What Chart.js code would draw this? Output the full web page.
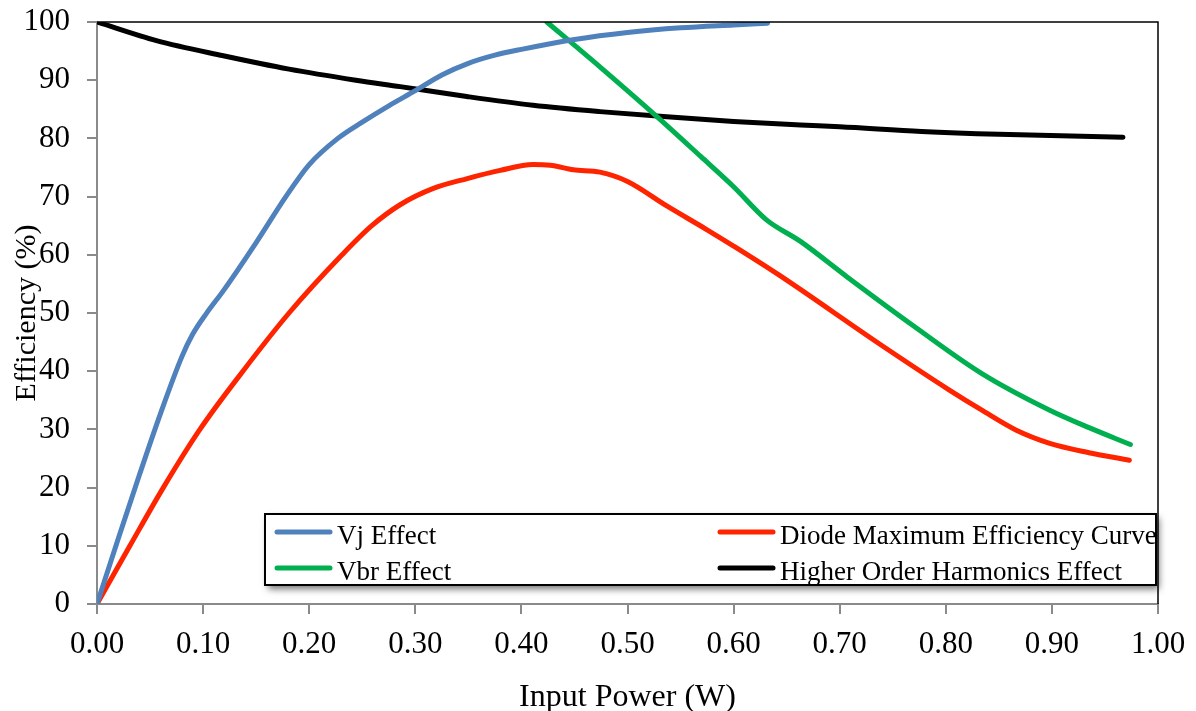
<!DOCTYPE html>
<html>
<head>
<meta charset="utf-8">
<script src="https://cdn.jsdelivr.net/npm/chart.js@4/dist/chart.umd.min.js"></script>
<style>
  html, body { margin: 0; padding: 0; background: #fff; }
  #wrap { width: 1196px; height: 711px; }
</style>
</head>
<body>
<div id="wrap"><canvas id="effChart" width="1196" height="711"></canvas></div>
<script>
// values
const vjX = [0, 0.02, 0.04, 0.06, 0.08, 0.09, 0.103, 0.119, 0.15, 0.178, 0.20, 0.227, 0.25, 0.275, 0.30, 0.325, 0.35, 0.375, 0.40, 0.45, 0.50, 0.55, 0.60, 0.632];
const vjY = [0, 11.2, 22.2, 32.8, 42.5, 46.3, 49.9, 53.8, 62.1, 70, 75.5, 80, 82.8, 85.6, 88.2, 90.9, 92.9, 94.3, 95.3, 97.0, 98.2, 99.0, 99.5, 99.8];

const diodeX = [0, 0.031, 0.0625, 0.097, 0.1375, 0.181, 0.231, 0.259, 0.2857, 0.317, 0.349, 0.38, 0.411, 0.427, 0.449, 0.474, 0.50, 0.537, 0.575, 0.60, 0.643, 0.739, 0.803, 0.834, 0.866, 0.898, 0.935, 0.973];
const diodeY = [0, 10, 20, 30, 40, 50, 60, 65, 68.6, 71.4, 73.1, 74.5, 75.5, 75.4, 74.6, 74.2, 72.6, 68.4, 64.3, 61.5, 56.5, 44.5, 36.8, 33.3, 29.9, 27.6, 26.0, 24.7];

const vbrX = [0.424, 0.474, 0.528, 0.569, 0.60, 0.631, 0.663, 0.707, 0.771, 0.834, 0.898, 0.935, 0.974];
const vbrY = [100, 92.3, 83.7, 76.9, 71.7, 66.0, 62.3, 56.2, 47.6, 39.6, 33.3, 30.3, 27.4];

const harmX = [0, 0.056, 0.119, 0.181, 0.244, 0.2857, 0.3485, 0.411, 0.474, 0.537, 0.60, 0.663, 0.70, 0.777, 0.85, 0.967];
const harmY = [100, 96.8, 94.2, 91.9, 90.0, 88.9, 87.2, 85.7, 84.6, 83.7, 82.9, 82.3, 82.0, 81.2, 80.7, 80.2];

const seriesNames = ['Vj Effect', 'Diode Maximum Efficiency Curve', 'Vbr Effect', 'Higher Order Harmonics Effect'];
const seriesColors = ['#4F81BD', '#FF2400', '#00B050', '#000000'];

function toPoints(xs, ys) {
  return xs.map((x, i) => ({ x: x, y: ys[i] }));
}

const serif = "'Liberation Serif', 'Times New Roman', serif";
const axisGray = '#8a8a8a';

// frame on top and right, and the boxed legend inside the plot
const framePlugin = {
  id: 'frameAndLegend',
  afterDraw(chart) {
    const ctx = chart.ctx;
    const area = chart.chartArea;
    ctx.save();
    ctx.strokeStyle = '#000';
    ctx.lineWidth = 1.5;
    ctx.beginPath();
    ctx.moveTo(area.left, area.top);
    ctx.lineTo(area.right, area.top);
    ctx.lineTo(area.right, area.bottom);
    ctx.stroke();

    // legend box
    const bx = 265, by = 514, bw = 891, bh = 71;
    ctx.shadowColor = 'rgba(0,0,0,0.55)';
    ctx.shadowBlur = 7;
    ctx.shadowOffsetX = 3;
    ctx.shadowOffsetY = 4;
    ctx.fillStyle = '#fff';
    ctx.fillRect(bx, by, bw, bh);
    ctx.shadowColor = 'transparent';
    ctx.strokeStyle = '#000';
    ctx.lineWidth = 2;
    ctx.strokeRect(bx, by, bw, bh);

    const cols = [277, 720];
    const rows = [532, 568];
    ctx.font = '27px ' + serif;
    ctx.textBaseline = 'alphabetic';
    ctx.textAlign = 'left';
    chart.data.datasets.forEach((ds, i) => {
      const cx = cols[i % 2];
      const cy = rows[Math.floor(i / 2)];
      ctx.strokeStyle = ds.borderColor;
      ctx.lineWidth = 5;
      ctx.lineCap = 'round';
      ctx.beginPath();
      ctx.moveTo(cx, cy);
      ctx.lineTo(cx + 53, cy);
      ctx.stroke();
      ctx.fillStyle = '#000';
      ctx.fillText(ds.label, cx + 60, cy + 12);
    });
    ctx.restore();
  }
};

const ctx = document.getElementById('effChart').getContext('2d');
new Chart(ctx, {
  type: 'scatter',
  data: {
    datasets: [
      { label: seriesNames[0], data: toPoints(vjX, vjY), borderColor: seriesColors[0] },
      { label: seriesNames[1], data: toPoints(diodeX, diodeY), borderColor: seriesColors[1] },
      { label: seriesNames[2], data: toPoints(vbrX, vbrY), borderColor: seriesColors[2] },
      { label: seriesNames[3], data: toPoints(harmX, harmY), borderColor: seriesColors[3] }
    ].map(ds => Object.assign(ds, {
      showLine: true,
      pointRadius: 0,
      borderWidth: 5,
      borderCapStyle: 'round',
      cubicInterpolationMode: 'monotone',
      backgroundColor: ds.borderColor
    }))
  },
  options: {
    responsive: false,
    animation: false,
    layout: { padding: { top: 22, right: 38, left: 0, bottom: 0 } },
    plugins: {
      legend: { display: false },
      tooltip: { enabled: false }
    },
    scales: {
      x: {
        type: 'linear',
        min: 0,
        max: 1,
        afterFit(scale) {
          scale.height = 107;
          scale.paddingLeft = 0;
          scale.paddingRight = 0;
        },
        border: { display: true, color: axisGray, width: 2 },
        grid: { drawOnChartArea: false, drawTicks: true, tickLength: 10, color: axisGray, lineWidth: 2 },
        ticks: {
          stepSize: 0.1,
          padding: 12,
          color: '#000',
          font: { family: serif, size: 31 },
          callback: v => v.toFixed(2)
        },
        title: {
          display: true,
          text: 'Input Power (W)',
          color: '#000',
          font: { family: serif, size: 32, lineHeight: 1 },
          padding: { top: 0, bottom: -3 }
        }
      },
      y: {
        min: 0,
        max: 100,
        afterFit(scale) {
          scale.width = 97;
          scale.paddingTop = 0;
          scale.paddingBottom = 0;
        },
        border: { display: true, color: axisGray, width: 2 },
        grid: { drawOnChartArea: false, drawTicks: true, tickLength: 10, color: axisGray, lineWidth: 2 },
        ticks: {
          stepSize: 10,
          padding: 17,
          color: '#000',
          font: { family: serif, size: 31 }
        },
        title: {
          display: true,
          text: 'Efficiency (%)',
          color: '#000',
          font: { family: serif, size: 30, lineHeight: 1 },
          padding: { top: 12, bottom: 0 }
        }
      }
    }
  },
  plugins: [framePlugin]
});
</script>
</body>
</html>
